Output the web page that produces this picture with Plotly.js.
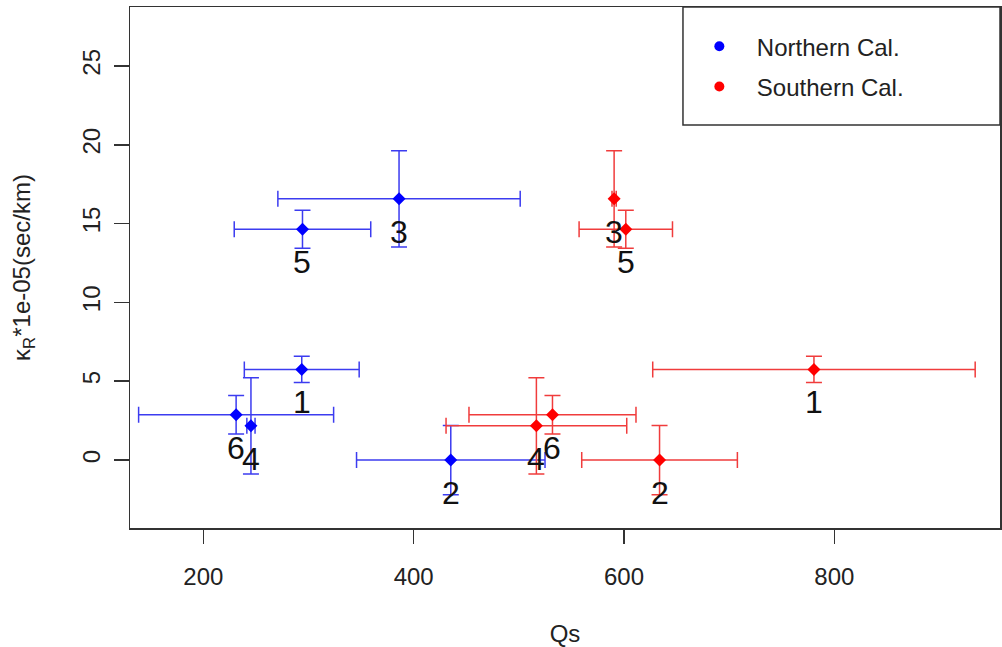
<!DOCTYPE html>
<html>
<head>
<meta charset="utf-8">
<script src="https://cdn.plot.ly/plotly-3.0.1.min.js"></script>
<style>html,body{margin:0;padding:0;background:#fff;}</style>
</head>
<body>
<div id="chart" style="width:1002px;height:647px;"></div>
<script>
// Event numbers
const events = ['1', '2', '3', '4', '5', '6'];

// Northern California
const qsNorth = [293.6, 435.3, 386.1, 245.3, 294.3, 231.2];
const qsNorthErr = [54.6, 89.6, 115.2, 3.9, 64.9, 92.7];
const kappaNorth = [5.75, 0.0, 16.57, 2.17, 14.64, 2.87];
const kappaNorthErr = [0.83, 2.2, 3.05, 3.05, 1.21, 1.22];

// Southern California
const qsSouth = [780.6, 633.8, 590.6, 516.7, 601.7, 532.0];
const qsSouthErr = [153.3, 74.0, 2.0, 85.9, 44.4, 79.4];
const kappaSouth = [5.75, 0.0, 16.57, 2.17, 14.64, 2.87];
const kappaSouthErr = [0.83, 2.2, 3.05, 3.05, 1.21, 1.22];

// Axis ticks
const xTicks = [200, 400, 600, 800];
const yTicks = [0, 5, 10, 15, 20, 25];

const FONT = 'Liberation Sans, Arial, sans-serif';

function seriesTrace(x, xe, y, ye, markerColor, barColor, name) {
  return {
    type: 'scatter', mode: 'markers', name: name, showlegend: false,
    x: x, y: y,
    marker: {symbol: 'diamond', size: 10, color: markerColor},
    error_x: {type: 'data', array: xe, visible: true, color: barColor, thickness: 1.5, width: 8},
    error_y: {type: 'data', array: ye, visible: true, color: barColor, thickness: 1.5, width: 8}
  };
}
function legendTrace(name, color, group) {
  return {
    type: 'scatter', mode: 'markers', name: name, legendgroup: group,
    x: [null], y: [null],
    marker: {symbol: 'circle', size: 10, color: color}
  };
}

const data = [
  seriesTrace(qsNorth, qsNorthErr, kappaNorth, kappaNorthErr, '#0000ff', '#3c3cf0', 'Northern Cal.'),
  seriesTrace(qsSouth, qsSouthErr, kappaSouth, kappaSouthErr, '#ff0000', '#f03c3c', 'Southern Cal.'),
  legendTrace('Northern Cal.', '#0000ff', 'n'),
  legendTrace('Southern Cal.', '#ff0000', 's')
];

function labels(xs, ys) {
  return events.map((e, i) => ({
    x: xs[i], y: ys[i], xref: 'x', yref: 'y', text: e, showarrow: false,
    yshift: -33, xanchor: 'center', yanchor: 'middle',
    font: {family: FONT, size: 32, color: '#111'}
  }));
}

const axisCommon = {
  showgrid: false, zeroline: false, showline: true, mirror: true,
  linecolor: '#333', linewidth: 1.5,
  ticks: 'outside', tickcolor: '#333', tickwidth: 1.5,
  tickfont: {family: FONT, size: 24, color: '#222'}
};

const layout = {
  width: 1002, height: 647,
  margin: {l: 130, r: 2, t: 7, b: 119},
  paper_bgcolor: '#fff', plot_bgcolor: '#fff',
  font: {family: FONT, color: '#222'},
  xaxis: Object.assign({}, axisCommon, {
    range: [130.3, 957.5], tickvals: xTicks, ticklen: 14, ticklabelstandoff: 13,
    title: {text: 'Qs', font: {family: FONT, size: 24, color: '#222'}, standoff: 36}
  }),
  yaxis: Object.assign({}, axisCommon, {
    range: [-4.31, 28.74], tickvals: yTicks, ticklen: 15, tickangle: -90, ticklabelstandoff: 4,
    title: {text: 'κ<sub>R</sub>*1e-05(sec/km)', font: {family: FONT, size: 24, color: '#222'}, standoff: 40}
  }),
  showlegend: true,
  legend: {
    x: 0.6343, xanchor: 'left', y: 0.967, yanchor: 'top',
    bgcolor: 'rgba(0,0,0,0)', borderwidth: 0,
    itemwidth: 65, traceorder: 'grouped', tracegroupgap: 6,
    font: {family: FONT, size: 24, color: '#222'}
  },
  shapes: [{
    type: 'rect', xref: 'paper', yref: 'paper',
    x0: 0.6356, x1: 1, y0: 0.7735, y1: 1,
    line: {color: '#333', width: 1.5}
  }],
  annotations: labels(qsNorth, kappaNorth).concat(labels(qsSouth, kappaSouth))
};

Plotly.newPlot('chart', data, layout, {staticPlot: true, displayModeBar: false});
</script>
</body>
</html>
